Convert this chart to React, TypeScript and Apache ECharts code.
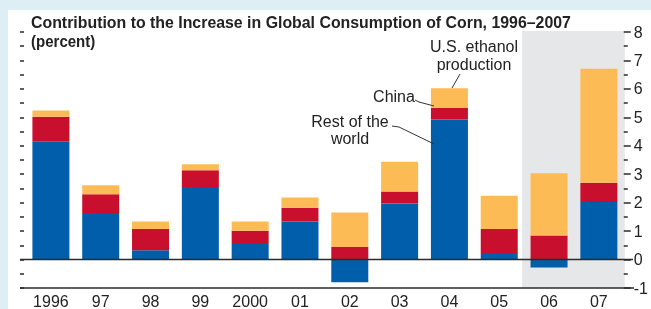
import React, { useEffect, useRef } from "react";
import * as echarts from "echarts";

const years = ["1996", "97", "98", "99", "2000", "01", "02", "03", "04", "05", "06", "07"];
const restOfWorld = [4.14, 1.64, 0.33, 2.55, 0.55, 1.34, -0.8, 1.97, 4.92, 0.23, -0.28, 2.02];
const china = [0.88, 0.66, 0.74, 0.59, 0.46, 0.48, 0.44, 0.42, 0.42, 0.84, 0.85, 0.68];
const usEthanol = [0.22, 0.31, 0.27, 0.21, 0.33, 0.36, 1.21, 1.05, 0.68, 1.17, 2.18, 4.01];
const yMin = -1;
const yMax = 8;

const SANS = "'Liberation Sans', Arial, sans-serif";
const DARK = "#2b2b2b";

export default function App() {
  const ref = useRef<HTMLDivElement>(null);
  useEffect(() => {
    const chart = echarts.init(ref.current!, null, { renderer: "svg" });
    const option: any = {
      animation: false,
      backgroundColor: "transparent",
      grid: { left: 26, right: 25, top: 32, bottom: 21, containLabel: false },
      xAxis: {
        type: "category",
        data: years,
        axisLine: { show: false },
        axisTick: { show: true, inside: true, length: 4, alignWithLabel: true, lineStyle: { color: DARK, width: 1.2 } },
        axisLabel: { fontSize: 16, fontFamily: SANS, color: "#222", margin: 5 },
        splitLine: { show: false },
      },
      yAxis: [
        {
          type: "value",
          position: "right",
          min: yMin,
          max: yMax,
          interval: 1,
          axisLine: { show: false },
          axisTick: { show: true, length: 7, lineStyle: { color: DARK, width: 1.5 } },
          minorTick: { show: true, splitNumber: 2, length: 4, lineStyle: { color: DARK, width: 1.5 } },
          axisLabel: { fontSize: 16, fontFamily: SANS, color: "#222", margin: 10 },
          splitLine: { show: false },
        },
        {
          type: "value",
          position: "left",
          offset: 6,
          min: yMin,
          max: yMax,
          interval: 0.5,
          axisLine: { show: false },
          axisTick: { show: true, inside: true, length: 4, lineStyle: { color: DARK, width: 1.5 } },
          axisLabel: { show: false },
          splitLine: { show: false },
        },
      ],
      series: [
        { name: "Rest of the world", type: "bar", stack: "total", barWidth: 37, data: restOfWorld, itemStyle: { color: "#005EAA" } },
        { name: "China", type: "bar", stack: "total", barWidth: 37, data: china, itemStyle: { color: "#C8102E" } },
        { name: "U.S. ethanol production", type: "bar", stack: "total", barWidth: 37, data: usEthanol, itemStyle: { color: "#FDBB55" } },
      ],
    };
    chart.setOption(option);

    const y0 = chart.convertToPixel({ yAxisIndex: 0 }, 0) as number;
    const yBottom = chart.convertToPixel({ yAxisIndex: 0 }, yMin) as number;
    const yTop = chart.convertToPixel({ yAxisIndex: 0 }, yMax) as number;
    const c05 = chart.convertToPixel({ xAxisIndex: 0 }, "05") as number;
    const c06 = chart.convertToPixel({ xAxisIndex: 0 }, "06") as number;
    const c07 = chart.convertToPixel({ xAxisIndex: 0 }, "07") as number;
    const band = c06 - c05;
    const shadeLeft = (c05 + c06) / 2 - 2;
    const shadeRight = c07 + band / 2 + 1;

    const txt = (text: string, x: number, y: number, size: number, weight: string, align: string, scaleX = 1) => ({
      type: "text",
      x,
      y,
      z: 10,
      scaleX,
      style: { text, fill: "#222", fontSize: size, fontWeight: weight, fontFamily: SANS, align, verticalAlign: "middle" },
    });

    chart.setOption({
      graphic: [
        { type: "rect", z: -20, shape: { x: 0, y: 0, width: 651, height: 309 }, style: { fill: "#DDEEF5" } },
        { type: "rect", z: -19, shape: { x: 8, y: 10, width: 643, height: 299 }, style: { fill: "#ffffff" } },
        { type: "rect", z: -18, shape: { x: shadeLeft, y: yTop - 1, width: shadeRight - shadeLeft, height: yBottom - yTop + 1 }, style: { fill: "#E6E7E8" } },
        { type: "line", z: 5, shape: { x1: 20, y1: y0, x2: 633, y2: y0 }, style: { stroke: DARK, lineWidth: 1.5 } },
        { type: "line", z: 5, shape: { x1: 20, y1: yBottom, x2: 634, y2: yBottom }, style: { stroke: DARK, lineWidth: 1.5 } },
        txt("Contribution to the Increase in Global Consumption of Corn, 1996\u20132007", 31, 21.5, 17, "bold", "left", 0.935),
        txt("(percent)", 31, 41, 16, "bold", "left", 0.94),
        txt("U.S. ethanol", 474, 46, 16, "normal", "center"),
        txt("production", 474, 64, 16, "normal", "center"),
        txt("China", 394, 96, 16, "normal", "center"),
        txt("Rest of the", 350, 121, 16, "normal", "center"),
        txt("world", 350, 138, 16, "normal", "center"),
        { type: "line", z: 10, shape: { x1: 460, y1: 74, x2: 452, y2: 88 }, style: { stroke: "#333", lineWidth: 1 } },
        { type: "polyline", z: 10, shape: { points: [[415, 100], [419, 102], [434, 106]] }, style: { stroke: "#333", lineWidth: 1, fill: null } },
        { type: "polyline", z: 10, shape: { points: [[392, 126], [399, 127], [434, 144]] }, style: { stroke: "#333", lineWidth: 1, fill: null } },
      ],
    });
    return () => chart.dispose();
  }, []);
  return (
    <div style={{ position: "fixed", left: 0, top: 0, width: 651, height: 309 }}>
      <div ref={ref} style={{ width: 651, height: 309 }} />
    </div>
  );
}
